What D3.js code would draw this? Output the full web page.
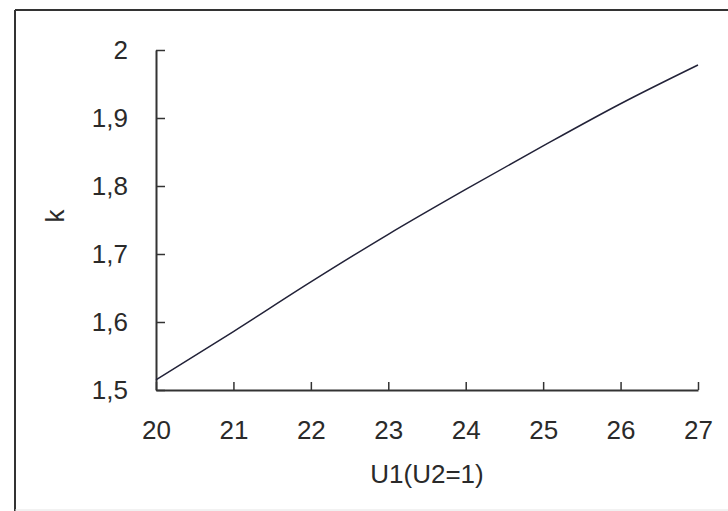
<!DOCTYPE html>
<html>
<head>
<meta charset="utf-8">
<script src="https://cdn.jsdelivr.net/npm/d3@7"></script>
<style>
  body { margin: 0; background: #fff; }
  svg { display: block; font-family: "Liberation Sans", Arial, sans-serif; }
</style>
</head>
<body>
<div id="chart"></div>
<script>
// dades llegides del gràfic
const u1 = [20, 21, 22, 23, 24, 25, 26, 27];
const kValues = [1.515, 1.586, 1.659, 1.729, 1.795, 1.859, 1.921, 1.978];
const xTicks = [20, 21, 22, 23, 24, 25, 26, 27];
const yTicks = [1.5, 1.6, 1.7, 1.8, 1.9, 2];
const yTickLabels = ["1,5", "1,6", "1,7", "1,8", "1,9", "2"];

const width = 728, height = 511;

const svg = d3.select("#chart")
    .append("svg")
        .attr("width", width)
        .attr("height", height);

// marc
svg.append("line")
    .attr("x1", 15).attr("y1", 10).attr("x2", width).attr("y2", 10)
    .attr("stroke", "#333").attr("stroke-width", 2);
svg.append("line")
    .attr("x1", 15).attr("y1", 10).attr("x2", 15).attr("y2", height)
    .attr("stroke", "#333").attr("stroke-width", 2);
svg.append("line")
    .attr("x1", 15).attr("y1", 510).attr("x2", width).attr("y2", 510)
    .attr("stroke", "#e4e4e4").attr("stroke-width", 1);

// escales
const x = d3.scaleLinear()
    .domain([20, 27])
    .range([156, 698]);

const y = d3.scaleLinear()
    .domain([1.5, 2])
    .range([390, 50]);

// eix X
const xAxis = svg.append("g")
    .attr("transform", `translate(0, ${y(1.5)})`)
    .call(d3.axisBottom(x)
        .tickValues(xTicks)
        .tickSizeInner(-8)
        .tickSizeOuter(0)
        .tickPadding(31)
        .tickFormat(d3.format("d")));

// eix Y
const yAxis = svg.append("g")
    .attr("transform", `translate(${x(20)}, 0)`)
    .call(d3.axisLeft(y)
        .tickValues(yTicks)
        .tickSizeInner(-9)
        .tickSizeOuter(0)
        .tickPadding(28)
        .tickFormat((d, i) => yTickLabels[i]));

[xAxis, yAxis].forEach(g => {
    g.select(".domain").attr("stroke", "#333").attr("stroke-width", 2);
    g.selectAll(".tick line").attr("stroke", "#333").attr("stroke-width", 1.5);
    g.selectAll("text")
        .style("font-size", "26px")
        .style("fill", "#2a2a2a");
});

// línia
const line = d3.line()
    .x((d, i) => x(u1[i]))
    .y(d => y(d))
    .curve(d3.curveMonotoneX);

svg.append("path")
    .datum(kValues)
    .attr("fill", "none")
    .attr("stroke", "#222238")
    .attr("stroke-width", 1.5)
    .attr("d", line);

// títols
svg.append("text")
    .attr("x", (x(20) + x(27)) / 2)
    .attr("y", 483)
    .attr("text-anchor", "middle")
    .style("font-size", "26px")
    .style("fill", "#2a2a2a")
    .text("U1(U2=1)");

svg.append("text")
    .attr("transform", `translate(64, 216) rotate(-90)`)
    .attr("text-anchor", "middle")
    .style("font-size", "26px")
    .style("fill", "#2a2a2a")
    .text("k");
</script>
</body>
</html>
